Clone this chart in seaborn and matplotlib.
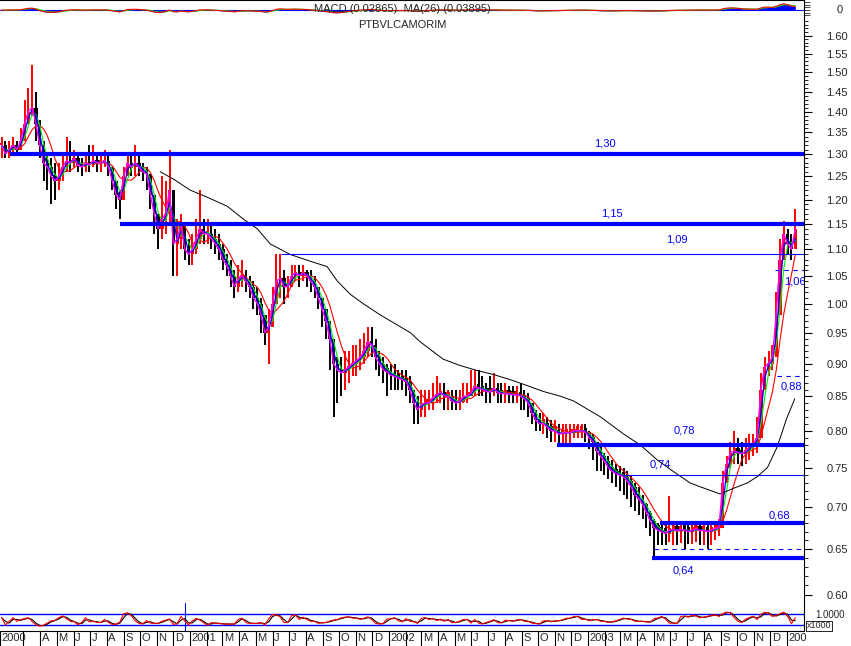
import matplotlib
matplotlib.use("Agg")
import matplotlib.pyplot as plt
from matplotlib.ticker import FixedLocator, FixedFormatter, NullFormatter
import numpy as np
import pandas as pd
import seaborn as sns

# weekly bars (Fridays)
week_start = "2000-01-21"
close = [1.32, 1.30, 1.31, 1.32, 1.31, 1.33, 1.37, 1.40, 1.41, 1.37,
         1.32, 1.28, 1.27, 1.25, 1.24, 1.25, 1.27, 1.285, 1.28, 1.29,
         1.275, 1.27, 1.28, 1.275, 1.285, 1.28, 1.28, 1.285, 1.27, 1.24,
         1.21, 1.20, 1.25, 1.28, 1.27, 1.28, 1.27, 1.26, 1.255, 1.21,
         1.17, 1.14, 1.16, 1.17, 1.22, 1.11, 1.12, 1.15, 1.10, 1.09,
         1.10, 1.12, 1.14, 1.13, 1.13, 1.12, 1.11, 1.10, 1.08, 1.07,
         1.05, 1.03, 1.045, 1.05, 1.04, 1.03, 1.01, 1.00, 0.98, 0.95,
         0.96, 1.00, 1.04, 1.045, 1.03, 1.03, 1.05, 1.055, 1.05, 1.055,
         1.05, 1.04, 1.03, 1.01, 0.99, 0.97, 0.94, 0.90, 0.89, 0.885,
         0.89, 0.895, 0.90, 0.905, 0.91, 0.92, 0.935, 0.93, 0.91, 0.90,
         0.89, 0.887, 0.882, 0.88, 0.877, 0.875, 0.872, 0.86, 0.84, 0.83,
         0.838, 0.84, 0.84, 0.848, 0.852, 0.856, 0.85, 0.85, 0.843, 0.84,
         0.842, 0.85, 0.85, 0.855, 0.865, 0.862, 0.86, 0.857, 0.856, 0.862,
         0.855, 0.854, 0.854, 0.853, 0.852, 0.852, 0.85, 0.846, 0.84, 0.825,
         0.815, 0.81, 0.81, 0.805, 0.80, 0.80, 0.795, 0.797, 0.797, 0.797,
         0.80, 0.80, 0.80, 0.798, 0.79, 0.785, 0.772, 0.765, 0.758, 0.75,
         0.745, 0.742, 0.74, 0.738, 0.732, 0.725, 0.715, 0.71, 0.703, 0.693,
         0.683, 0.675, 0.672, 0.670, 0.668, 0.672, 0.673, 0.671, 0.673, 0.672,
         0.670, 0.672, 0.674, 0.671, 0.672, 0.670, 0.672, 0.674, 0.675, 0.73,
         0.755, 0.77, 0.772, 0.77, 0.768, 0.772, 0.778, 0.782, 0.79, 0.86,
         0.895, 0.90, 0.91, 0.98, 1.08, 1.13, 1.11, 1.10, 1.14]
high = [1.34, 1.33, 1.33, 1.34, 1.33, 1.36, 1.43, 1.46, 1.52, 1.45,
        1.38, 1.33, 1.30, 1.29, 1.28, 1.28, 1.30, 1.34, 1.33, 1.31,
        1.30, 1.29, 1.30, 1.32, 1.32, 1.30, 1.30, 1.31, 1.30, 1.27,
        1.24, 1.22, 1.27, 1.30, 1.30, 1.32, 1.30, 1.28, 1.27, 1.24,
        1.20, 1.17, 1.25, 1.24, 1.31, 1.20, 1.16, 1.17, 1.14, 1.12,
        1.13, 1.16, 1.22, 1.16, 1.16, 1.15, 1.14, 1.13, 1.11, 1.09,
        1.08, 1.06, 1.07, 1.08, 1.06, 1.05, 1.04, 1.03, 1.01, 0.98,
        0.99, 1.03, 1.09, 1.09, 1.06, 1.05, 1.07, 1.07, 1.07, 1.07,
        1.06, 1.06, 1.05, 1.03, 1.01, 0.99, 0.96, 0.93, 0.91, 0.91,
        0.92, 0.92, 0.93, 0.93, 0.94, 0.95, 0.96, 0.96, 0.94, 0.92,
        0.91, 0.90, 0.90, 0.90, 0.89, 0.89, 0.89, 0.88, 0.86, 0.85,
        0.86, 0.86, 0.86, 0.87, 0.88, 0.87, 0.87, 0.86, 0.86, 0.86,
        0.86, 0.87, 0.87, 0.89, 0.89, 0.89, 0.88, 0.87, 0.88, 0.885,
        0.87, 0.87, 0.87, 0.865, 0.865, 0.865, 0.87, 0.86, 0.855, 0.84,
        0.83, 0.825, 0.825, 0.82, 0.815, 0.815, 0.81, 0.81, 0.81, 0.81,
        0.81, 0.81, 0.81, 0.81, 0.80, 0.795, 0.785, 0.78, 0.77, 0.765,
        0.76, 0.755, 0.752, 0.75, 0.745, 0.74, 0.73, 0.725, 0.715, 0.705,
        0.695, 0.685, 0.68, 0.68, 0.68, 0.713, 0.682, 0.68, 0.682, 0.68,
        0.68, 0.68, 0.682, 0.68, 0.68, 0.68, 0.68, 0.682, 0.685, 0.745,
        0.765, 0.785, 0.80, 0.79, 0.785, 0.79, 0.795, 0.795, 0.82, 0.885,
        0.91, 0.92, 0.93, 1.02, 1.12, 1.155, 1.14, 1.13, 1.18]
low = [1.29, 1.29, 1.29, 1.30, 1.30, 1.31, 1.34, 1.38, 1.39, 1.33,
       1.29, 1.24, 1.22, 1.19, 1.20, 1.22, 1.24, 1.26, 1.26, 1.27,
       1.26, 1.25, 1.26, 1.26, 1.27, 1.26, 1.26, 1.27, 1.25, 1.22,
       1.18, 1.16, 1.20, 1.25, 1.25, 1.25, 1.25, 1.24, 1.22, 1.18,
       1.13, 1.10, 1.12, 1.13, 1.15, 1.05, 1.05, 1.10, 1.08, 1.07,
       1.07, 1.09, 1.11, 1.11, 1.11, 1.10, 1.09, 1.08, 1.06, 1.05,
       1.03, 1.01, 1.02, 1.03, 1.02, 1.01, 0.99, 0.98, 0.95, 0.93,
       0.90, 0.96, 1.00, 1.01, 1.00, 1.01, 1.03, 1.04, 1.03, 1.04,
       1.03, 1.02, 1.01, 0.99, 0.96, 0.94, 0.89, 0.82, 0.84, 0.85,
       0.86, 0.87, 0.88, 0.88, 0.89, 0.90, 0.91, 0.91, 0.89, 0.88,
       0.87, 0.85, 0.86, 0.86, 0.86, 0.86, 0.85, 0.84, 0.81, 0.81,
       0.82, 0.82, 0.83, 0.83, 0.84, 0.84, 0.83, 0.83, 0.83, 0.83,
       0.83, 0.84, 0.84, 0.85, 0.85, 0.85, 0.85, 0.84, 0.84, 0.85,
       0.84, 0.84, 0.84, 0.84, 0.84, 0.84, 0.83, 0.83, 0.82, 0.81,
       0.80, 0.80, 0.795, 0.79, 0.785, 0.785, 0.78, 0.78, 0.78, 0.78,
       0.79, 0.79, 0.79, 0.785, 0.775, 0.76, 0.745, 0.745, 0.74, 0.735,
       0.73, 0.725, 0.72, 0.715, 0.71, 0.70, 0.695, 0.69, 0.685, 0.675,
       0.665, 0.64, 0.655, 0.655, 0.655, 0.658, 0.655, 0.655, 0.657, 0.65,
       0.656, 0.656, 0.658, 0.655, 0.655, 0.65, 0.655, 0.66, 0.665, 0.675,
       0.73, 0.75, 0.755, 0.755, 0.752, 0.755, 0.76, 0.765, 0.77, 0.80,
       0.87, 0.88, 0.89, 0.92, 1.02, 1.09, 1.09, 1.08, 1.10]

# long moving average (black), read at a few points
ma_long_dates = ["2000-11-07", "2000-12-01", "2001-01-01", "2001-02-01", "2001-03-10",
                 "2001-04-08", "2001-05-04", "2001-05-28", "2001-06-15", "2001-07-03",
                 "2001-08-09", "2001-09-09", "2001-09-28", "2001-10-22", "2001-11-14",
                 "2001-12-16", "2002-01-16", "2002-02-09", "2002-02-27", "2002-04-10",
                 "2002-05-11", "2002-06-12", "2002-07-11", "2002-08-11", "2002-09-11",
                 "2002-10-11", "2002-11-11", "2002-12-05", "2003-01-23", "2003-03-06",
                 "2003-04-07", "2003-05-08", "2003-06-06", "2003-07-07", "2003-07-26",
                 "2003-08-31", "2003-09-24", "2003-10-20", "2003-11-07", "2003-11-26",
                 "2003-12-14", "2003-12-31", "2004-01-15"]
ma_long_vals = [1.26, 1.244, 1.22, 1.205, 1.186, 1.16, 1.14, 1.11, 1.10, 1.09,
                1.077, 1.067, 1.04, 1.016, 1.0, 0.98, 0.963, 0.95, 0.935, 0.907,
                0.897, 0.889, 0.883, 0.875, 0.866, 0.857, 0.85, 0.843, 0.82, 0.796,
                0.78, 0.76, 0.745, 0.73, 0.725, 0.716, 0.723, 0.73, 0.738, 0.75,
                0.778, 0.817, 0.846]

# support / resistance lines
level_vals = [1.30, 1.15, 1.09, 1.06, 0.88, 0.78, 0.74, 0.68, 0.65, 0.64]
level_start = ["2000-02-06", "2000-08-26", "2001-06-17", "2003-12-10", "2003-12-14",
               "2002-11-05", "2003-03-06", "2003-05-12", "2003-05-01", "2003-04-29"]
level_kind = ["thick", "thick", "thin", "dash", "dash", "thick", "thin", "thick", "dash", "thick"]

label_text = ["1,30", "1,15", "1,09", "1,06", "0,88", "0,78", "0,74", "0,68", "0,64"]
label_x = ["2003-02-01", "2003-02-14", "2003-06-12", "2004-01-15", "2004-01-09",
           "2003-06-26", "2003-05-13", "2003-12-18", "2003-06-25"]
label_y = [1.325, 1.172, 1.118, 1.040, 0.864, 0.801, 0.7534, 0.690, 0.6266]

price_ticks = [0.60, 0.65, 0.70, 0.75, 0.80, 0.85, 0.90, 0.95, 1.00, 1.05,
               1.10, 1.15, 1.20, 1.25, 1.30, 1.35, 1.40, 1.45, 1.50, 1.55, 1.60]

BLUE = "#0000ff"
RED = "#ff0000"
GREEN = "#00ee00"
MAGENTA = "#ff00ff"

sns.set_theme(style="white")
plt.rcParams["font.family"] = ["Liberation Sans", "DejaVu Sans"]

df = pd.DataFrame({"date": pd.date_range(week_start, periods=len(close), freq="7D"),
                   "close": close, "high": high, "low": low})
df["open"] = df["close"].shift(1).fillna(df["close"])
df["ma2"] = df["close"].rolling(2, min_periods=1).mean()
df["ma3"] = df["close"].rolling(3, min_periods=1).mean()
df["ma6"] = df["close"].rolling(6, min_periods=1).mean()

# indicators for the small panels
df["macd"] = df["close"].ewm(span=3).mean() - df["close"].ewm(span=6).mean()
df["signal"] = df["macd"].ewm(span=3).mean()
lo3 = df["low"].rolling(3, min_periods=1).min()
hi3 = df["high"].rolling(3, min_periods=1).max()
df["k"] = 100 * (df["close"] - lo3) / (hi3 - lo3)
df["d"] = df["k"].rolling(2, min_periods=1).mean()

x0, x1 = pd.Timestamp("2000-01-18"), pd.Timestamp("2004-02-01")

fig = plt.figure(figsize=(8.51, 6.46), dpi=100)
W, H = 851, 646


def box(px0, py0, px1, py1):
    return [px0 / W, 1 - py1 / H, (px1 - px0) / W, (py1 - py0) / H]


ax_top = fig.add_axes(box(0, 0, 804, 18))
ax = fig.add_axes(box(0, 18, 804, 603))
ax_osc = fig.add_axes(box(0, 603, 804, 631))

# ---- main price panel
ax.set_yscale("log")
up = df["close"] >= df["open"]
cols = np.where(up, RED, "black")
ax.vlines(df["date"], df["low"], df["high"], colors=cols, linewidth=1.4, zorder=2)
body_lo = np.minimum(df["open"], df["close"])
body_h = np.maximum(np.abs(df["close"] - df["open"]), 0.006)
ax.bar(df["date"], body_h, bottom=body_lo, width=6.0, color=cols, linewidth=0, zorder=2)

sns.lineplot(data=df, x="date", y="ma6", color=RED, lw=0.8, ax=ax, zorder=3)
sns.lineplot(data=df, x="date", y="ma3", color=GREEN, lw=0.8, ax=ax, zorder=3)
sns.lineplot(data=df, x="date", y="ma2", color=BLUE, lw=0.9, ax=ax, zorder=3)
sns.lineplot(data=df, x="date", y="close", color=MAGENTA, lw=1.0, ax=ax, zorder=4)
sns.lineplot(x=pd.to_datetime(ma_long_dates), y=ma_long_vals, color="black", lw=0.7, ax=ax, zorder=3)

for v, s, kind in zip(level_vals, level_start, level_kind):
    if kind == "thick":
        ax.hlines(v, pd.Timestamp(s), x1, color=BLUE, lw=3.0, zorder=5)
    elif kind == "thin":
        ax.hlines(v, pd.Timestamp(s), x1, color=BLUE, lw=0.8, zorder=5)
    else:
        ax.hlines(v, pd.Timestamp(s), x1, color=BLUE, lw=0.8, linestyles=(0, (4, 4)), zorder=5)

for t, lx, ly in zip(label_text, label_x, label_y):
    ax.text(pd.Timestamp(lx), ly, t, color=BLUE, fontsize=8, ha="center", va="center",
            clip_on=True, zorder=6)

ax.set_xlim(x0, x1)
ax.set_ylim(0.5914, 1.650)
ax.yaxis.tick_right()
ax.yaxis.set_major_locator(FixedLocator(price_ticks))
ax.yaxis.set_major_formatter(FixedFormatter(["%.2f" % p for p in price_ticks]))
ax.yaxis.set_minor_locator(FixedLocator(np.arange(0.59, 1.65, 0.01)))
ax.yaxis.set_minor_formatter(NullFormatter())
ax.tick_params(axis="y", which="major", right=True, length=6, width=0.8, pad=10,
               labelsize=8, direction="out", color="black")
ax.tick_params(axis="y", which="minor", right=True, length=3, width=0.6, direction="out", color="black")
ax.tick_params(axis="x", bottom=False, labelbottom=False)
ax.set_xlabel("")
ax.set_ylabel("")
for side in ["left", "top", "bottom"]:
    ax.spines[side].set_visible(False)
ax.spines["right"].set_color("black")
ax.spines["right"].set_linewidth(0.8)
ax.patch.set_alpha(0)
fig.text(402 / W, 1 - 25 / H, "PTBVLCAMORIM", fontsize=8, ha="center", va="center")

# ---- top MACD strip
ax_top.fill_between(df["date"], 0, df["macd"], color=BLUE, lw=0)
sns.lineplot(data=df, x="date", y="signal", color=GREEN, lw=0.8, ax=ax_top)
sns.lineplot(data=df, x="date", y="macd", color=RED, lw=0.8, ax=ax_top)
ax_top.axhline(0, color=BLUE, lw=0.8, zorder=0)
ax_top.set_xlim(x0, x1)
ax_top.set_ylim(-0.088, 0.11)
ax_top.set_xticks([])
ax_top.yaxis.tick_right()
ax_top.set_yticks([0])
ax_top.set_yticklabels([])
ax_top.set_yticks([-0.06, -0.03, 0.03, 0.06, 0.09], minor=True)
ax_top.tick_params(axis="y", which="both", right=True, length=4, width=0.6, direction="out")
ax_top.set_xlabel("")
ax_top.set_ylabel("")
ax_top.spines["left"].set_visible(False)
ax_top.spines["bottom"].set_visible(False)
for side in ["top", "right"]:
    ax_top.spines[side].set_color("black")
    ax_top.spines[side].set_linewidth(0.8)
fig.text(840 / W, 1 - 10 / H, "0", fontsize=8, ha="center", va="center")
fig.text(402 / W, 1 - 9 / H, "MACD (0.02865)  MA(26) (0.03895)", fontsize=8, ha="center", va="center")

# ---- bottom oscillator
ax_osc.axhline(80, color=BLUE, lw=1.0)
ax_osc.axhline(20, color=BLUE, lw=1.0)
ax_osc.axvline(pd.Timestamp("2000-12-23"), color=BLUE, lw=0.8)
sns.lineplot(data=df, x="date", y="d", color="black", lw=0.8, ax=ax_osc)
sns.lineplot(data=df, x="date", y="k", color=RED, lw=0.8, ax=ax_osc)
ax_osc.set_xlim(x0, x1)
ax_osc.set_ylim(-13, 140)
ax_osc.set_yticks([])
ax_osc.set_xlabel("")
ax_osc.set_ylabel("")
ax_osc.spines["left"].set_visible(False)
ax_osc.spines["top"].set_visible(False)
for side in ["right", "bottom"]:
    ax_osc.spines[side].set_color("black")
    ax_osc.spines[side].set_linewidth(0.8)

months = pd.date_range("2000-03-01", "2004-01-01", freq="MS")
tick_pos = [x0] + list(months)
tick_lab = ["2000"]
for m in months:
    if m.month == 1:
        tick_lab.append("200" if m.year == 2004 else str(m.year))
    elif m.month == 2 or (m.year == 2000 and m.month == 3):
        tick_lab.append("")
    else:
        tick_lab.append("JFMAMJJASOND"[m.month - 1])
ax_osc.set_xticks(tick_pos)
ax_osc.set_xticklabels([""] * len(tick_pos))
ax_osc.tick_params(axis="x", which="major", bottom=True, length=10.8, width=0.8,
                   direction="out", color="black")
lab_pos = [p + pd.Timedelta(days=3) for p in tick_pos]
ax_osc.set_xticks(lab_pos, minor=True)
ax_osc.set_xticklabels(tick_lab, minor=True, ha="left", fontsize=8)
ax_osc.tick_params(axis="x", which="minor", bottom=True, length=0, pad=1.5)

fig.text(815 / W, 1 - 615 / H, "1.0000", fontsize=7, ha="left", va="center")
fig.text(807 / W, 1 - 626 / H, "x1000", fontsize=6.5, ha="left", va="center",
         bbox=dict(boxstyle="square,pad=0.1", fc="white", ec="black", lw=0.6))

fig.savefig("out.png", dpi=100)
